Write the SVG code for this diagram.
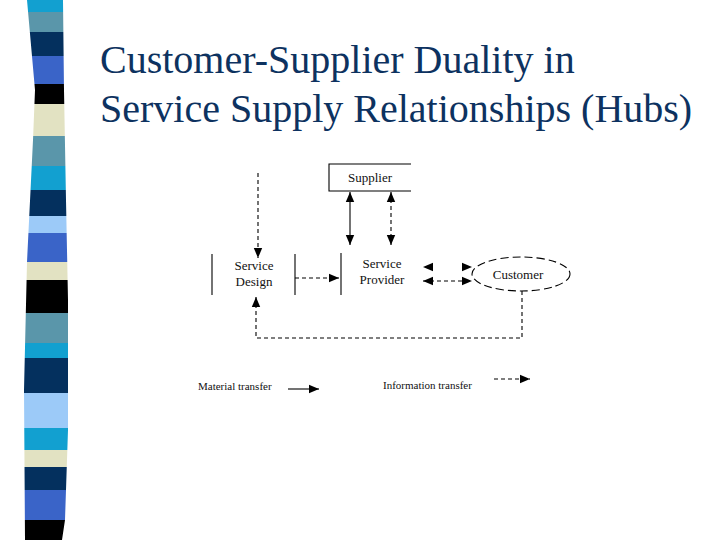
<svg xmlns="http://www.w3.org/2000/svg" width="720" height="540" viewBox="0 0 720 540">
<style>
.title{font-family:"Liberation Serif","Times New Roman",serif;font-size:40px;fill:#0d3260}
.lbl{font-family:"Liberation Serif","Times New Roman",serif;font-size:13px;fill:#111;text-anchor:middle}
.leg{font-family:"Liberation Serif","Times New Roman",serif;font-size:11px;fill:#111}
.solid{stroke:#000;stroke-width:1.1;fill:none}
.dash{stroke:#000;stroke-width:1.1;fill:none;stroke-dasharray:4 3}
.edge{stroke:#000;stroke-width:1.1;fill:none}
</style>
<defs>
<marker id="ah" viewBox="0 0 10 10" refX="10" refY="5" markerWidth="10" markerHeight="10" markerUnits="userSpaceOnUse" orient="auto-start-reverse">
<path d="M0,0.8 L10,5 L0,9.2 z" fill="#000"/>
</marker>
<clipPath id="bar">
<polygon points="27,0 63,0 64,90 66,200 68,300 68,430 65,520 62,540 25,540 24,390 27,262 33,140 35,90"/>
</clipPath>
</defs>
<rect width="720" height="540" fill="#fff"/>
<g id="stripes" clip-path="url(#bar)">
<rect x="0" y="0" width="80" height="12" fill="#12a0d0"/>
<rect x="0" y="12" width="80" height="20" fill="#5a96aa"/>
<rect x="0" y="32" width="80" height="24" fill="#04305e"/>
<rect x="0" y="56" width="80" height="28" fill="#3a64c8"/>
<rect x="0" y="84" width="80" height="20" fill="#000"/>
<rect x="0" y="104" width="80" height="32" fill="#e2e2c2"/>
<rect x="0" y="136" width="80" height="30" fill="#5a96aa"/>
<rect x="0" y="166" width="80" height="24" fill="#12a0d0"/>
<rect x="0" y="190" width="80" height="26" fill="#04305e"/>
<rect x="0" y="216" width="80" height="17" fill="#9ccaf8"/>
<rect x="0" y="233" width="80" height="29" fill="#3a64c8"/>
<rect x="0" y="262" width="80" height="18" fill="#e2e2c2"/>
<rect x="0" y="280" width="80" height="33" fill="#000"/>
<rect x="0" y="313" width="80" height="30" fill="#5a96aa"/>
<rect x="0" y="343" width="80" height="15" fill="#12a0d0"/>
<rect x="0" y="358" width="80" height="35" fill="#04305e"/>
<rect x="0" y="393" width="80" height="35" fill="#9ccaf8"/>
<rect x="0" y="428" width="80" height="22" fill="#12a0d0"/>
<rect x="0" y="450" width="80" height="17" fill="#e2e2c2"/>
<rect x="0" y="467" width="80" height="23" fill="#04305e"/>
<rect x="0" y="490" width="80" height="30" fill="#3a64c8"/>
<rect x="0" y="520" width="80" height="20" fill="#000"/>
</g>
<g id="title">
<text class="title" x="100" y="73">Customer-Supplier Duality in</text>
<text class="title" x="100" y="122">Service Supply Relationships (Hubs)</text>
</g>
<g id="supplier">
<path class="edge" d="M411,164 L329,164 L329,191 L411,191"/>
<text class="lbl" x="370" y="182">Supplier</text>
</g>
<g id="service-design">
<line class="edge" x1="212" y1="254" x2="212" y2="295"/>
<line class="edge" x1="295" y1="254" x2="295" y2="295"/>
<text class="lbl" x="254" y="270">Service</text>
<text class="lbl" x="254" y="286">Design</text>
</g>
<g id="service-provider">
<line class="edge" x1="341" y1="253" x2="341" y2="295"/>
<text class="lbl" x="382" y="268">Service</text>
<text class="lbl" x="382" y="284">Provider</text>
</g>
<g id="customer">
<ellipse cx="521" cy="274" rx="49" ry="17" fill="none" stroke="#000" stroke-width="1.1" stroke-dasharray="8 4"/>
<text class="lbl" x="518" y="279">Customer</text>
</g>
<g id="connectors">
<path class="solid" d="M350,192 L350,245" marker-start="url(#ah)" marker-end="url(#ah)"/>
<path class="dash" d="M391,192 L391,245" marker-start="url(#ah)" marker-end="url(#ah)"/>
<path class="dash" d="M258,173 L258,258" marker-end="url(#ah)"/>
<path class="dash" d="M295,278 L339,278" marker-end="url(#ah)"/>
<path d="M423,267 L433,267 M462,267 L472,267" stroke="none" fill="none" marker-start="url(#ah)" marker-end="url(#ah)"/>
<path class="dash" d="M423,281 L472,281" marker-start="url(#ah)" marker-end="url(#ah)"/>
<path class="dash" d="M522,291 L522,338 L256,338 L256,297" marker-end="url(#ah)"/>
</g>
<g id="legend">
<text class="leg" x="198" y="390">Material transfer</text>
<path class="solid" d="M288,389 L319,389" marker-end="url(#ah)"/>
<text class="leg" x="383" y="389">Information transfer</text>
<path class="dash" d="M494,379 L530,379" marker-end="url(#ah)"/>
</g>
</svg>
